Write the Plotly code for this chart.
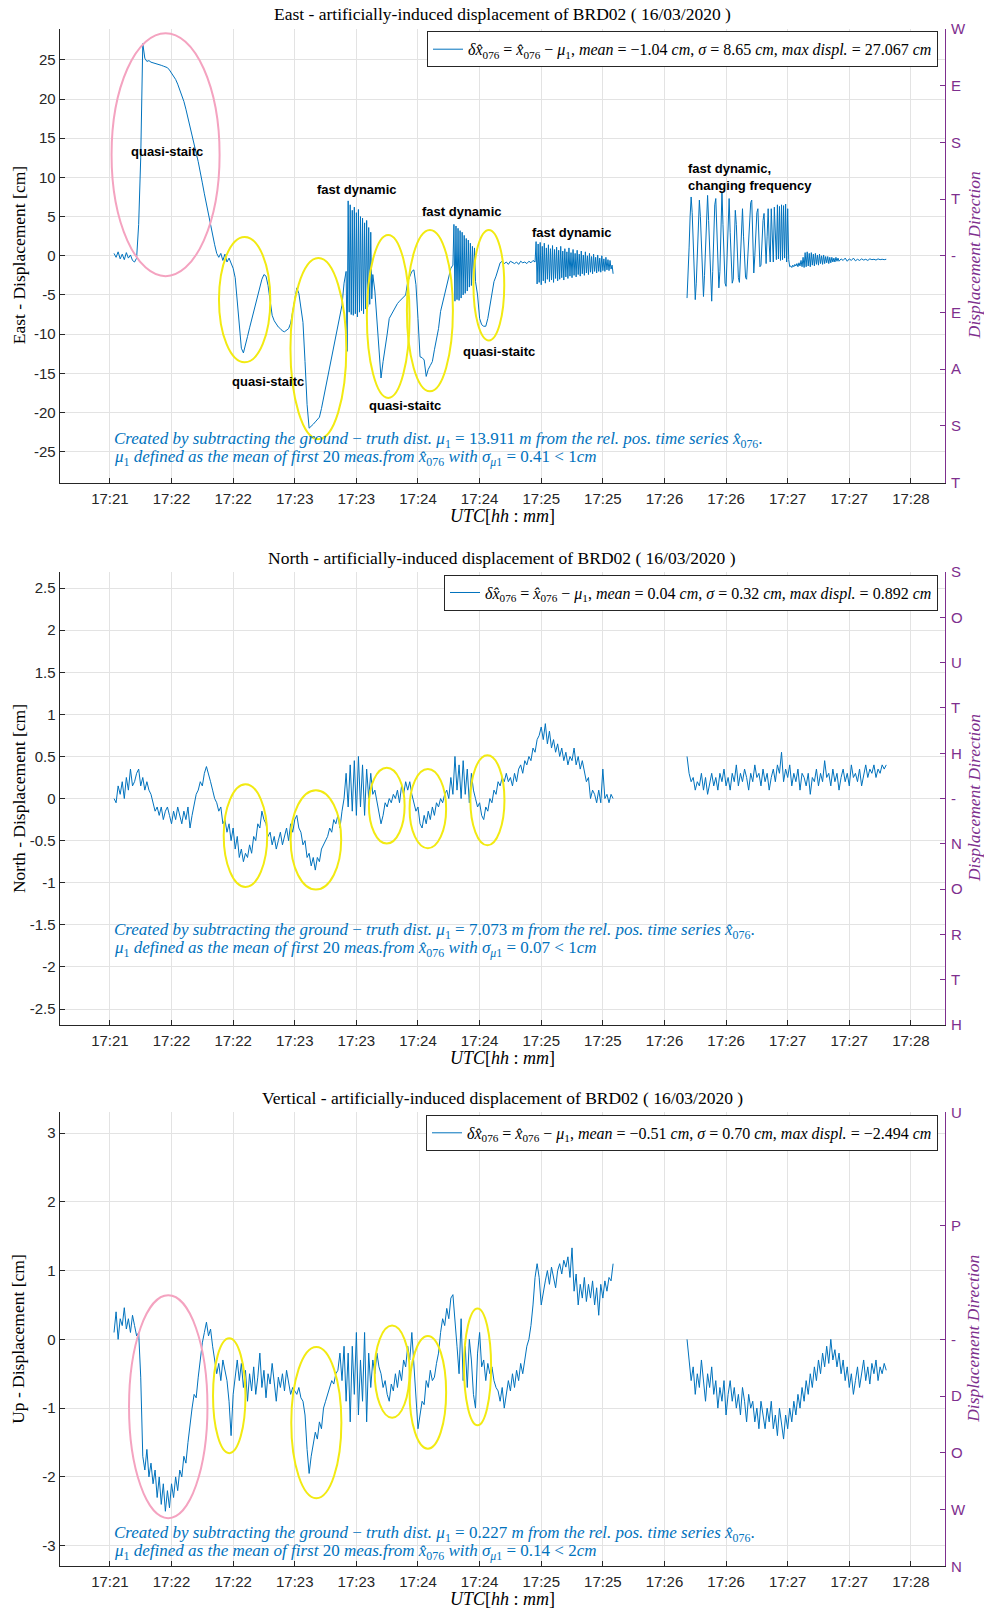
import plotly.graph_objects as go

# ---------------------------------------------------------------------------
# Time axis: seconds after the 17:21 tick mark, one tick every 30 s
# ---------------------------------------------------------------------------
tick_seconds = [0, 30, 60, 90, 120, 150, 180, 210, 240, 270, 300, 330, 360, 390]
tick_labels = ["17:21", "17:22", "17:22", "17:23", "17:23", "17:24", "17:24",
               "17:25", "17:25", "17:26", "17:26", "17:27", "17:27", "17:28"]

# ---------------------------------------------------------------------------
# East displacement [cm]  (segments: start time [s], sample step [s], values)
# ---------------------------------------------------------------------------
east_a = [0.3, -0.2, 0.5, -0.4, 0.2, -0.5, 0.4, -0.3, 0.1, -0.6, -0.8, -0.3,
          4.0, 12.5, 27.067,
          25.2, 24.8, 24.9, 24.7, 24.6, 24.5, 24.4, 24.4, 24.3, 24.2, 24.1, 24.0,
          23.7, 23.3, 23.0, 22.5, 21.9, 21.2, 20.5, 19.7, 18.7, 17.5, 16.3, 15.3,
          14.2, 13.1, 12.0, 10.8, 9.3, 7.9, 6.5, 5.3, 4.0, 2.8, 1.4, 0.3,
          -0.2, 0.3, -0.6, 0.2, -0.8, -0.3, -1.0,
          -1.6, -2.8, -5.5, -9.0, -11.8, -12.4, -11.5, -10.3, -9.2, -8.2, -7.3,
          -6.2, -5.0, -4.1, -3.0, -2.4, -2.6, -3.8, -6.0, -7.6, -8.3, -8.8, -9.1,
          -9.3, -9.6, -9.7, -9.5, -9.3, -8.6, -7.0, -5.6, -4.1, -4.8, -6.5, -8.5,
          -13.5, -19.0, -22.0, -21.8, -21.5, -21.2, -20.9, -20.6, -19.5, -18.2,
          -16.8, -15.2, -14.0, -12.8, -11.5, -10.2, -9.2, -7.8, -6.3, -3.5, -2.0]
east_b = [-12.2, 7.0, -7.2, 6.5, -7.5, 5.8, -7.6, 6.2, -7.4, 5.5, -7.8, 5.9,
          -7.2, 5.0, -7.0, 4.8, -7.4, 4.2, -6.8, 4.5, -6.5, 3.6, -6.2, 3.0,
          -5.5, -2.4]
east_c = [-4.5, -8.4, -13.0, -15.6, -13.5, -11.4, -10.0, -8.0, -7.5, -6.9,
          -6.5, -6.1, -5.8, -5.5, -5.2, -5.0, -3.3, -2.6, -2.0, -1.8, -3.7,
          -8.0, -12.9, -13.0, -13.3, -15.4, -14.5, -14.0, -13.5, -12.0, -10.5,
          -9.3, -7.1, -6.0, -5.0, -3.6, -2.4, -1.6, -1.2]
east_d = [4.0, -5.8, 3.8, -5.6, 3.5, -5.7, 3.2, -5.4, 3.0, -5.0, 2.6, -4.8,
          2.2, -4.5, 2.0, -4.0, 1.6, -3.8, 1.2, -3.5, 1.0, -3.3]
east_e = [-5.0, -8.0, -8.8, -9.0, -9.0, -8.0, -6.5, -4.6, -3.3, -2.6, -1.8,
          -0.9, -0.7, -1.0, -0.8, -1.1, -0.7, -0.9, -1.0, -0.8, -1.1, -0.7,
          -0.9, -0.8, -1.0, -0.7, -0.9, -0.6, -0.8]
east_f = [1.8, -3.6, 1.5, -3.4, 1.7, -3.7, 1.2, -3.2, 1.6, -3.5,
          1.0, -3.0, 1.4, -3.3, 0.9, -3.1, 1.3, -3.4, 0.8, -2.9,
          1.1, -3.2, 0.7, -3.0, 1.2, -2.8, 0.6, -3.1, 0.9, -2.7,
          0.5, -2.9, 1.0, -2.6, 0.4, -2.8, 0.8, -2.5, 0.3, -2.7,
          0.7, -2.4, 0.2, -2.6, 0.6, -2.3, 0.1, -2.5, 0.5, -2.2,
          0.0, -2.4, 0.3, -2.1, -0.1, -2.3, 0.2, -2.0, -0.2, -2.2,
          0.1, -2.0, -0.3, -2.1, 0.0, -1.9, -0.4, -2.0, -0.2, -1.8,
          -0.5, -1.9, -0.6, -1.7, -1.2, -2.3]
east_g = [-5.4, -3.0, 1.0, 5.0, 7.5, 5.5, 1.5, -2.5, -5.6, -3.5, 0.5, 4.5,
          7.1, 5.0, 1.0, -3.0, -5.2, -2.5, 2.0, 6.0, 7.7, 4.5, 0.0, -4.0,
          -5.8, -2.0, 3.0, 6.5, 7.3, 3.5, -1.0, -4.1, -2.0, 3.5, 8.2, 4.0,
          -1.0, -3.5, -3.9, 0.5, 5.0, 7.3, 3.0, -1.5, -3.5, -3.0, 1.5, 5.8,
          4.0, 0.0, -2.8, -3.4, 0.0, 4.5, 6.0, 2.5, -1.0, -2.8, -3.0, -0.5,
          2.5, 5.0, 6.8, 7.1, 3.0, -2.2, 0.0, 3.5, 5.5, 6.0, 2.5, -1.4,
          -1.2, 2.0, 4.5, 5.4, 1.5, -1.0, 2.5, 6.0, 1.5, -0.8, 6.0, 1.0,
          -0.8, 6.2, 2.0, -0.5, 6.5, -0.4, 6.3, -0.6, 6.5, -0.5, 6.4, -0.3,
          6.6, -0.8, 6.0, -0.5, -1.4]
east_h = [-1.3, -1.5, -1.2, -1.4, -1.1, -1.3, -1.0, -1.4, -0.9, -1.3, -0.6,
          -1.4, -0.2, -1.5, 0.4, -1.4, 0.5, -1.3, 0.3, -1.4, 0.4, -1.2, 0.2,
          -1.3, 0.3, -1.1, 0.1, -1.2, 0.2, -1.0, 0.0, -1.1, 0.1, -1.0, -0.1,
          -0.9, -0.1, -1.0, -0.2, -0.9, -0.2, -0.8, -0.3, -0.8, -0.2, -0.7,
          -0.3, -0.7]
east_i = [-0.4, -0.6, -0.3, -0.7, -0.4, -0.6, -0.3, -0.65, -0.45, -0.6, -0.4,
          -0.55, -0.45, -0.6, -0.4, -0.5, -0.45, -0.55, -0.4, -0.5, -0.45,
          -0.5, -0.45]
east_starts = [2, 115.5, 129, 167.5, 179, 207.5, 281, 331.5, 356]
east_steps = [1, 0.5, 1, 0.5, 1, 0.5, 0.5, 0.5, 1]
east_parts = [east_a, east_b, east_c, east_d, east_e, east_f, east_g, east_h, east_i]

# ---------------------------------------------------------------------------
# North displacement [cm]
# ---------------------------------------------------------------------------
north_a = [0.0, -0.05, 0.15, 0.05, 0.2, 0.0, 0.25, 0.1, 0.35, 0.15, 0.2, 0.3,
           0.35, 0.15, 0.25,
           0.1, 0.2, 0.1, 0.05,
           -0.05, -0.15, -0.1, -0.2, -0.1, -0.25, -0.15, -0.1, -0.2, -0.3,
           -0.15, -0.25, -0.1, -0.2, -0.3, -0.15, -0.25, -0.1, -0.35, -0.2,
           -0.05, 0.05, 0.1, 0.2, 0.15, 0.3, 0.38, 0.3,
           0.2, 0.1, 0.0, -0.05, -0.15, -0.1, -0.3,
           -0.25, -0.4, -0.3, -0.5, -0.35, -0.6, -0.45, -0.7, -0.6, -0.75,
           -0.65, -0.7, -0.55, -0.65, -0.45, -0.5, -0.3, -0.35, -0.15, -0.25,
           -0.3, -0.45, -0.4, -0.55, -0.45, -0.6, -0.5, -0.4, -0.55, -0.45,
           -0.35, -0.5, -0.3,
           -0.4, -0.25, -0.2, -0.35, -0.4, -0.55, -0.5, -0.7, -0.65, -0.8,
           -0.7, -0.85, -0.7, -0.75, -0.6, -0.55, -0.5, -0.45, -0.35, -0.4,
           -0.25, -0.3, -0.2, -0.35, -0.15,
           0.0, 0.3, -0.1, 0.4, -0.15, 0.45, -0.2, 0.5, -0.1, 0.4, -0.2, 0.35,
           0.0, 0.3,
           0.05, 0.1, -0.05, -0.15, -0.3, -0.2, -0.05, -0.1, 0.0, -0.05, 0.05,
           0.0, 0.1, -0.05, 0.15, 0.05, 0.2, 0.1,
           0.2, 0.05, -0.05, -0.15, -0.1, -0.3, -0.35, -0.2, -0.3, -0.15,
           -0.25, -0.1, -0.2, -0.05, -0.1, 0.0, -0.05, 0.05,
           0.1, 0.0, 0.25, 0.05, 0.5, 0.1, 0.4, 0.0, 0.45, 0.05, 0.35, -0.05,
           0.3, 0.1,
           0.0, -0.1, -0.05, -0.2, -0.25, -0.1, -0.15, 0.0, -0.05, 0.1, 0.05,
           0.2, 0.15,
           0.25, 0.2, 0.3, 0.2, 0.25, 0.15, 0.3, 0.2, 0.35, 0.4, 0.3, 0.45, 0.4,
           0.5, 0.45, 0.6, 0.55, 0.7,
           0.75, 0.85, 0.7, 0.89, 0.65, 0.8, 0.6,
           0.7, 0.55, 0.65, 0.5, 0.6, 0.45, 0.55, 0.4, 0.5, 0.45, 0.6, 0.4,
           0.5, 0.35, 0.45, 0.3,
           0.2, 0.25, 0.0, 0.1, 0.05, -0.05, 0.1, -0.05, 0.35, 0.0, 0.05,
           -0.05, 0.05, 0.0]
north_b = [0.5, 0.3, 0.2, 0.25, 0.1, 0.2, 0.15, 0.3, 0.1, 0.25, 0.05, 0.2, 0.3,
           0.15, 0.25, 0.1, 0.3, 0.2, 0.35, 0.15, 0.25, 0.1, 0.3, 0.2, 0.4,
           0.15, 0.3, 0.2, 0.35, 0.25, 0.1, 0.3, 0.2, 0.4, 0.25, 0.3, 0.15,
           0.35, 0.2, 0.3, 0.1, 0.25, 0.35, 0.2, 0.4, 0.3, 0.55, 0.2, 0.35,
           0.25, 0.4, 0.15, 0.3, 0.2, 0.35, 0.1, 0.3, 0.25, 0.15, 0.3, 0.05,
           0.25, 0.2, 0.35, 0.15, 0.3, 0.2, 0.45, 0.25, 0.3, 0.15, 0.35, 0.2,
           0.3, 0.1, 0.25, 0.35, 0.2, 0.3, 0.15, 0.4, 0.25, 0.3, 0.2, 0.35,
           0.15, 0.3, 0.4, 0.25, 0.35, 0.3, 0.4, 0.25, 0.35, 0.3, 0.4, 0.35, 0.4]
north_starts = [2, 281]
north_steps = [1, 1]
north_parts = [north_a, north_b]

# ---------------------------------------------------------------------------
# Up displacement [cm]
# ---------------------------------------------------------------------------
up_a = [0.1, 0.4, 0.0, 0.3, 0.2, 0.46, 0.15, 0.3, 0.1, 0.35, 0.2, 0.05, 0.1,
        -0.55, -1.7, -1.9, -1.6, -2.0, -1.8, -2.1, -1.9, -2.3, -2.0, -2.4,
        -2.1, -2.5, -2.2, -2.45, -2.1, -2.3, -2.0, -2.2, -1.9, -2.0, -1.7,
        -1.8, -1.5,
        -1.2, -1.0, -0.8, -0.85, -0.55, -0.3, -0.05, 0.1, 0.25, 0.05, 0.15,
        -0.1, -0.3, -0.5, -0.35, -0.6, -0.3, -0.45, -0.6, -0.9, -1.4, -0.8,
        -0.5, -0.3, -0.6, -0.35, -0.7,
        -0.45, -0.9, -0.5, -0.75, -0.4, -0.8, -0.55, -0.2, -0.7, -0.45, -0.85,
        -0.5, -0.65, -0.35, -0.6, -0.9, -0.55, -0.7, -0.5, -0.75, -0.45, -0.6,
        -0.8, -0.7, -0.75,
        -0.8, -0.7, -0.85, -0.9, -1.1, -1.6, -1.95, -1.7, -1.5, -1.35, -1.45,
        -1.2, -1.3, -1.0, -0.9, -0.8, -0.7, -0.6, -0.65, -0.5, -0.45,
        -0.2, -0.6, -0.1, -0.9, -0.2, -1.2, -0.1, -0.8, 0.1, -1.1, -0.3, -0.9,
        0.1, -1.2, -0.2, -0.7, -0.3, -0.5,
        -0.2, -0.4, -0.5, -0.7, -0.6, -0.8, -0.9, -0.65, -0.75, -0.5, -0.7,
        -0.45, -0.6, -0.3, -0.4, -0.1,
        -0.3, 0.1, -0.4, -0.9, -1.3, -1.1, -0.9, -0.95, -0.6, -0.7, -0.45,
        -0.6, -0.55, -0.35, -0.2,
        0.1, 0.3, 0.2, 0.45, 0.3, 0.6, 0.65, 0.2,
        -0.1, -0.5, 0.3, -0.6, -0.1, -0.7, 0.0, -0.3, -0.8, -1.0, -0.2, 0.1,
        -0.4, -0.3, -0.6, -0.35, -0.5, -0.4,
        -0.6, -0.7, -0.75, -0.9, -0.7, -1.0, -0.8, -0.6, -0.75, -0.5, -0.7,
        -0.45, -0.6, -0.35, -0.5, -0.3,
        -0.1, 0.0, 0.2, 0.5, 0.9, 1.1,
        0.9, 0.5, 0.7, 0.85, 1.0, 0.8, 1.05, 0.9, 0.75, 1.0, 1.1, 0.95, 1.15,
        1.05, 1.2, 0.9, 1.33, 0.7, 0.95, 0.5, 0.8, 0.6, 0.9, 0.55, 0.8, 0.6,
        0.85, 0.5, 0.75, 0.35, 0.8, 0.6, 0.85, 0.7, 0.9, 0.85, 1.1]
up_b = [0.0, -0.3, -0.6, -0.4, -0.8, -0.5, -0.7, -0.3, -0.6, -0.9, -0.5, -0.7,
        -0.4, -0.8, -0.6, -1.0, -0.7, -0.9, -0.6, -1.1, -0.8, -0.6, -0.9, -0.7,
        -1.0, -0.8, -1.1, -0.7, -0.9, -1.2, -0.8, -1.0, -0.9, -1.2, -1.0, -1.3,
        -0.9, -1.1, -1.3, -1.0, -1.2, -0.9, -1.3, -1.1, -1.4, -1.0, -1.2,
        -1.45, -1.1, -1.3, -1.0, -1.2, -0.9, -1.1, -0.8, -1.0, -0.7, -0.9,
        -0.6, -0.8, -0.5, -0.7, -0.4, -0.6, -0.3, -0.5, -0.2, -0.4, -0.1,
        -0.35, 0.0, -0.3, -0.15, -0.4, -0.2, -0.5, -0.3, -0.6, -0.4, -0.7,
        -0.5, -0.8, -0.6, -0.4, -0.7, -0.5, -0.3, -0.6, -0.4, -0.65, -0.35,
        -0.5, -0.3, -0.6, -0.4, -0.5, -0.35, -0.45]
up_starts = [2, 281]
up_steps = [1, 1]
up_parts = [up_a, up_b]

# ---------------------------------------------------------------------------
# Marked regions: ellipse centre (t, value) and half-axes (s, cm)
# ---------------------------------------------------------------------------
east_ell_t = [27.1, 65.6, 101.5, 135.5, 155.8, 184.5]
east_ell_v = [12.9, -5.6, -11.85, -7.75, -7.0, -3.75]
east_ell_rt = [26.3, 12.5, 13.6, 10.4, 11.2, 7.5]
east_ell_rv = [15.5, 8.0, 11.55, 10.4, 10.3, 7.05]
east_ell_kind = ["pink", "yellow", "yellow", "yellow", "yellow", "yellow"]

north_ell_t = [66.0, 100.3, 134.8, 154.8, 183.8]
north_ell_v = [-0.44, -0.49, -0.085, -0.12, -0.02]
north_ell_rt = [10.6, 12.3, 8.7, 8.9, 8.3]
north_ell_rv = [0.61, 0.59, 0.45, 0.47, 0.535]
north_ell_kind = ["yellow"] * 5

up_ell_t = [28.4, 58.1, 100.5, 137.4, 154.8, 179.0]
up_ell_v = [-0.98, -0.82, -1.21, -0.47, -0.77, -0.40]
up_ell_rt = [19.1, 7.9, 12.2, 8.5, 8.9, 6.6]
up_ell_rv = [1.62, 0.835, 1.1, 0.67, 0.82, 0.85]
up_ell_kind = ["pink", "yellow", "yellow", "yellow", "yellow", "yellow"]

# Region labels on the East panel
east_label_text = ["quasi-staitc", "fast dynamic", "quasi-staitc", "quasi-staitc",
                   "fast dynamic", "quasi-staitc", "fast dynamic",
                   "fast dynamic,<br>changing frequency"]
east_label_t = [27.6, 120.0, 77.0, 143.8, 171.3, 189.6, 224.5, 280.5]
east_label_v = [13.3, 8.5, -16.0, -19.1, 5.6, -12.2, 3.0, 10.0]
east_label_align = ["center"] * 7 + ["left"]

# Statistics shown in the legends
east_stats = ["-1.04", "8.65", "27.067"]
north_stats = ["0.04", "0.32", "0.892"]
up_stats = ["-0.51", "0.70", "-2.494"]
mu1 = ["13.911", "7.073", "0.227"]
sigma_mu1 = ["0.41", "0.07", "0.14"]
sigma_limit = ["1", "1", "2"]

panel_titles = ["East", "North", "Vertical"]
left_titles = ["East - Displacement [cm]", "North - Displacement [cm]",
               "Up - Displacement [cm]"]
direction_words = [("WEST", "EAST"), ("SOUTH", "NORTH"), ("UP", "DOWN")]

# ---------------------------------------------------------------------------
W, H = 984, 1611
BLUE = "#0072BD"
PURPLE = "#7E2F8E"
AX = "#262626"
GRID = "#e3e3e3"
PINK = "#F4A3C0"
YELLOW = "#F2EA12"
SERIF = "Liberation Serif, Times New Roman, serif"
SANS = "Liberation Sans, Arial, sans-serif"

# pixel geometry of the three axes (left, right, top, bottom)
AX_L, AX_R = 59.6, 945.0
AX_TB = [(28.8, 482.7), (572.1, 1025.0), (1112.4, 1566.3)]
NOTE_OFFSETS = [(-43.1, -24.6), (-94.4, -76.0), (-32.8, -14.3)]
Y_HALF = [28.96, 2.69, 3.30]
Y_TICKS = [[-25, -20, -15, -10, -5, 0, 5, 10, 15, 20, 25],
           [-2.5, -2, -1.5, -1, -0.5, 0, 0.5, 1, 1.5, 2, 2.5],
           [-3, -2, -1, 0, 1, 2, 3]]
X_RANGE = [-24.5, 406.6]


def px(x):
    return x / W


def py(y):
    return 1 - y / H


def build(starts, steps, parts):
    xs, ys = [], []
    prev_end = None
    for t0, dt, vals in zip(starts, steps, parts):
        if prev_end is not None and t0 - prev_end > 5:
            xs.append(None)
            ys.append(None)
        for i, v in enumerate(vals):
            xs.append(t0 + i * dt)
            ys.append(v)
        prev_end = t0 + (len(vals) - 1) * dt
    return xs, ys


def direction_ticks(upper, lower, half):
    vals, text = [], []
    for i, ch in enumerate(upper):
        vals.append(half * (1 - i / len(upper)))
        text.append(ch)
    vals.append(0)
    text.append("-")
    for j, ch in enumerate(lower):
        vals.append(-half * (j + 1) / len(lower))
        text.append(ch)
    return vals, text


def minus(s):
    return s.replace("-", "\u2212")


series = [build(east_starts, east_steps, east_parts),
          build(north_starts, north_steps, north_parts),
          build(up_starts, up_steps, up_parts)]
ellipses = [(east_ell_t, east_ell_v, east_ell_rt, east_ell_rv, east_ell_kind),
            (north_ell_t, north_ell_v, north_ell_rt, north_ell_rv, north_ell_kind),
            (up_ell_t, up_ell_v, up_ell_rt, up_ell_rv, up_ell_kind)]
stats = [east_stats, north_stats, up_stats]

fig = go.Figure()
layout = dict(width=W, height=H,
              margin=dict(l=0, r=0, t=0, b=0, pad=0, autoexpand=False),
              paper_bgcolor="white", plot_bgcolor="white",
              showlegend=True, annotations=[], shapes=[])

for p in range(3):
    top, bot = AX_TB[p]
    xa = "xaxis" if p == 0 else f"xaxis{p + 1}"
    ya_l = "yaxis" if p == 0 else f"yaxis{2 * p + 1}"
    ya_r = f"yaxis{2 * p + 2}"
    xref = "x" if p == 0 else f"x{p + 1}"
    yref_l = "y" if p == 0 else f"y{2 * p + 1}"
    yref_r = f"y{2 * p + 2}"
    leg = "legend" if p == 0 else f"legend{p + 1}"
    half = Y_HALF[p]

    mean, sig, mx = stats[p]
    name = ("<i>\u03b4x\u0302</i><sub>076</sub> = <i>x\u0302</i><sub>076</sub> \u2212 "
            "<i>\u03bc</i><sub>1</sub>, <i>mean</i> = " + minus(mean) +
            " <i>cm</i>, <i>\u03c3</i> = " + sig + " <i>cm</i>, <i>max displ.</i> = " +
            minus(mx) + " <i>cm</i>")
    xs, ys = series[p]
    fig.add_trace(go.Scatter(x=xs, y=ys, mode="lines", name=name,
                             line=dict(color=BLUE, width=1),
                             xaxis=xref, yaxis=yref_l, legend=leg,
                             connectgaps=False, hoverinfo="skip"))
    # carrier trace for the direction axis on the right
    fig.add_trace(go.Scatter(x=[None], y=[None], mode="lines", showlegend=False,
                             xaxis=xref, yaxis=yref_r, hoverinfo="skip"))

    layout[xa] = dict(domain=[px(AX_L), px(AX_R)], anchor=yref_l, range=X_RANGE,
                      tickmode="array", tickvals=tick_seconds, ticktext=tick_labels,
                      ticks="inside", ticklen=5, tickcolor=AX, showline=True,
                      linecolor=AX, linewidth=1, showgrid=True, gridcolor=GRID,
                      zeroline=False, ticklabelstandoff=2,
                      tickfont=dict(family=SANS, size=15, color=AX))
    layout[ya_l] = dict(domain=[py(bot), py(top)], anchor=xref, range=[-half, half],
                        tickmode="array", tickvals=Y_TICKS[p],
                        ticktext=[f"{v:g}" for v in Y_TICKS[p]],
                        ticks="inside", ticklen=5, tickcolor=AX, showline=True,
                        linecolor=AX, linewidth=1, showgrid=True, gridcolor=GRID,
                        zeroline=False, tickfont=dict(family=SANS, size=15, color=AX))
    dv, dt_ = direction_ticks(direction_words[p][0], direction_words[p][1], half)
    layout[ya_r] = dict(overlaying=yref_l, side="right", anchor=xref,
                        range=[-half, half], tickmode="array", tickvals=dv,
                        ticktext=dt_, ticks="inside", ticklen=5, tickcolor=PURPLE,
                        showline=True, linecolor=PURPLE, linewidth=1, showgrid=False,
                        zeroline=False, ticklabelstandoff=2,
                        tickfont=dict(family=SANS, size=15, color=PURPLE))

    layout[leg] = dict(x=px(938), xanchor="right", y=py(top + 2.5), yanchor="top",
                       bgcolor="white", bordercolor=AX, borderwidth=1,
                       font=dict(family=SERIF, size=16, color="black"),
                       itemwidth=30, tracegroupgap=0)

    # ellipses marking motion phases
    et, ev, ert, erv, ek = ellipses[p]
    for c_t, c_v, r_t, r_v, kind in zip(et, ev, ert, erv, ek):
        layout["shapes"].append(dict(type="circle", xref=xref, yref=yref_l,
                                     x0=c_t - r_t, x1=c_t + r_t,
                                     y0=c_v - r_v, y1=c_v + r_v,
                                     line=dict(color=PINK if kind == "pink" else YELLOW,
                                               width=2)))

    ann = layout["annotations"]
    ann.append(dict(text=f"{panel_titles[p]} - artificially-induced displacement of BRD02 ( 16/03/2020 )",
                    xref="paper", yref="paper", x=px((AX_L + AX_R) / 2),
                    y=py(top - 14.4), xanchor="center", yanchor="middle",
                    showarrow=False, font=dict(family=SERIF, size=17.5, color="black")))
    ann.append(dict(text=left_titles[p], xref="paper", yref="paper", x=px(18.5),
                    y=py((top + bot) / 2), xanchor="center", yanchor="middle",
                    textangle=-90, showarrow=False,
                    font=dict(family=SERIF, size=17.5, color="black")))
    ann.append(dict(text="<i>Displacement Direction</i>", xref="paper", yref="paper",
                    x=px(973.5), y=py((top + bot) / 2), xanchor="center",
                    yanchor="middle", textangle=-90, showarrow=False,
                    font=dict(family=SERIF, size=17.5, color=PURPLE)))
    ann.append(dict(text="<i>UTC</i>[<i>hh</i> : <i>mm</i>]", xref="paper", yref="paper",
                    x=px((AX_L + AX_R) / 2), y=py(bot + 33), xanchor="center",
                    yanchor="middle", showarrow=False,
                    font=dict(family=SERIF, size=18, color="black")))
    note1 = ("<i>Created by subtracting the ground</i> \u2212 <i>truth dist.</i> "
             "<i>\u03bc</i><sub>1</sub> = " + mu1[p] +
             " <i>m from the rel. pos. time series x\u0302</i><sub>076</sub>.")
    note2 = ("<i>\u03bc</i><sub>1</sub> <i>defined as the mean of first</i> 20 "
             "<i>meas.from x\u0302</i><sub>076</sub> <i>with \u03c3</i><sub><i>\u03bc</i>1</sub> = "
             + sigma_mu1[p] + " &lt; " + sigma_limit[p] + "<i>cm</i>")
    for txt, off in zip([note1, note2], NOTE_OFFSETS[p]):
        ann.append(dict(text=txt, xref="paper", yref="paper", x=px(112),
                        y=py(bot + off), xanchor="left", yanchor="middle",
                        align="left", showarrow=False,
                        font=dict(family=SERIF, size=17, color=BLUE)))

    if p == 0:
        for txt, lt, lv, al in zip(east_label_text, east_label_t, east_label_v,
                                   east_label_align):
            ann.append(dict(text=f"<b>{txt}</b>", xref=xref, yref=yref_l, x=lt, y=lv,
                            xanchor="center" if al == "center" else "left",
                            yanchor="middle", align=al, showarrow=False,
                            font=dict(family=SANS, size=13, color="black")))

fig.update_layout(**layout)
fig.write_html("out.html")
